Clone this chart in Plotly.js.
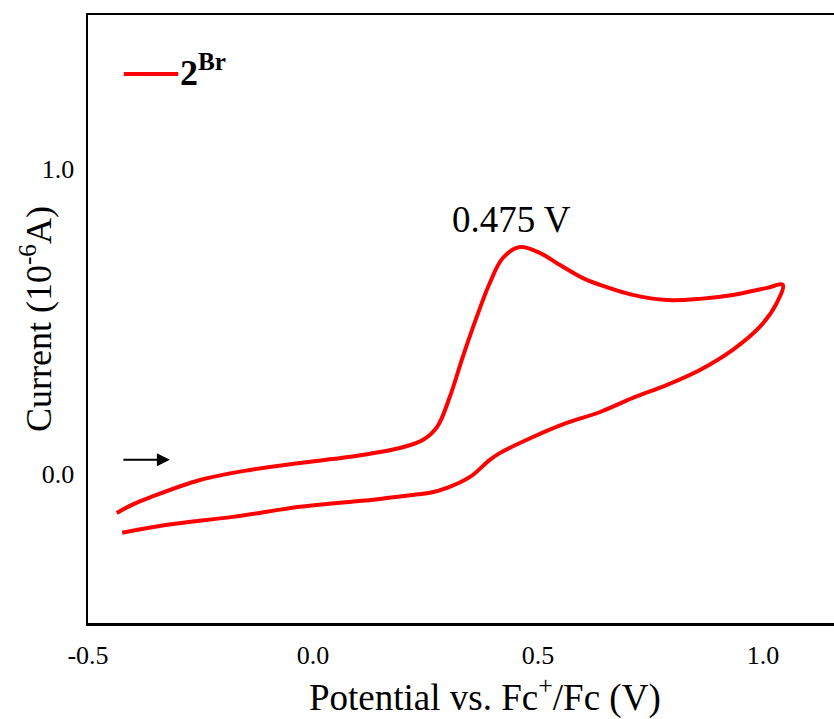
<!DOCTYPE html>
<html>
<head>
<meta charset="utf-8">
<script src="https://cdn.plot.ly/plotly-3.0.1.min.js"></script>
<style>html,body{margin:0;padding:0;background:#fff;overflow:hidden}</style>
</head>
<body>
<div id="chart" style="width:834px;height:719px"></div>
<script>
// Cyclic voltammogram of 2^Br: forward (anodic) scan, then reverse scan
const potential = [
  -0.436, -0.400, -0.362, -0.251, -0.140, -0.029, 0.082, 0.193, 0.244, 0.276, 0.304,
  0.333, 0.364, 0.393, 0.422, 0.460, 0.504, 0.549, 0.600, 0.638, 0.711, 0.787,
  0.860, 0.933, 1.009, 1.044,
  1.031, 0.993, 0.933, 0.860, 0.787, 0.711, 0.638, 0.564, 0.489, 0.416, 0.393,
  0.349, 0.298, 0.260, 0.222, 0.149, 0.060, -0.029, -0.178, -0.324, -0.424
];
const current = [
  -0.128, -0.100, -0.077, -0.020, 0.013, 0.036, 0.056, 0.085, 0.111, 0.154, 0.252,
  0.384, 0.515, 0.626, 0.708, 0.744, 0.725, 0.685, 0.642, 0.620, 0.587, 0.570,
  0.574, 0.587, 0.610, 0.620,
  0.561, 0.482, 0.407, 0.341, 0.292, 0.249, 0.203, 0.167, 0.121, 0.069, 0.046,
  -0.010, -0.046, -0.062, -0.069, -0.082, -0.095, -0.108, -0.141, -0.167, -0.193
];
const xTickVals = [-0.5, 0.0, 0.5, 1.0];
const xTickText = ['-0.5', '0.0', '0.5', '1.0'];
const yTickVals = [0.0, 1.0];
const yTickText = ['0.0', '1.0'];
const seriesName = '2<sup>Br</sup>';
const xTitle = 'Potential vs. Fc<sup>+</sup>/Fc (V)';
const yTitle = 'Current (10<sup>-6</sup>A)';
const peakLabel = '0.475 V';
const peakPos = [0.442, 0.835];
const arrowHead = [-0.318, 0.046];

const serif = 'Liberation Serif, Times New Roman, serif';

const trace = {
  x: potential, y: current, type: 'scatter', mode: 'lines', name: seriesName,
  line: {color: '#ff0000', width: 4, shape: 'spline', smoothing: 1},
  showlegend: false
};

const layout = {
  width: 834, height: 719,
  margin: {l: 88, r: 0, t: 15, b: 96},
  paper_bgcolor: '#fff', plot_bgcolor: '#fff',
  font: {family: serif, color: '#000'},
  xaxis: {
    range: [-0.5, 1.158], showgrid: false, zeroline: false,
    showline: true, linecolor: '#000', linewidth: 2.5, mirror: true,
    tickmode: 'array', tickvals: xTickVals, ticktext: xTickText,
    ticks: 'outside', ticklen: 7, tickcolor: 'rgba(0,0,0,0)',
    tickfont: {family: serif, size: 26, color: '#000'}
  },
  yaxis: {
    range: [-0.489, 1.505], showgrid: false, zeroline: false,
    showline: true, linecolor: '#000', linewidth: 2.5, mirror: false,
    tickmode: 'array', tickvals: yTickVals, ticktext: yTickText,
    ticks: 'outside', ticklen: 6, tickcolor: 'rgba(0,0,0,0)',
    tickfont: {family: serif, size: 26, color: '#000'}
  },
  shapes: [
    {type: 'line', xref: 'paper', yref: 'paper', x0: 0.048, x1: 0.121, y0: 0.903, y1: 0.903,
     line: {color: '#ff0000', width: 4}}
  ],
  annotations: [
    {xref: 'paper', yref: 'paper', x: 0.532, y: -0.118, xanchor: 'center', yanchor: 'middle',
     text: xTitle, showarrow: false, font: {family: serif, size: 37, color: '#000'}},
    {xref: 'paper', yref: 'paper', x: -0.0697, y: 0.5, xanchor: 'center', yanchor: 'middle',
     textangle: -90, text: yTitle, showarrow: false, font: {family: serif, size: 36, color: '#000'}},
    {xref: 'paper', yref: 'paper', x: 0.121, y: 0.908, xanchor: 'left', yanchor: 'middle',
     text: '<b>' + seriesName + '</b>', showarrow: false,
     font: {family: serif, size: 36, color: '#000'}},
    {x: peakPos[0], y: peakPos[1], text: peakLabel, showarrow: false,
     font: {family: serif, size: 37, color: '#000'}},
    {x: arrowHead[0], y: arrowHead[1], ax: -48, ay: 0, text: '', showarrow: true,
     arrowhead: 2, arrowsize: 1.3, arrowwidth: 2, arrowcolor: '#000'}
  ]
};

Plotly.newPlot('chart', [trace], layout, {displayModeBar: false, staticPlot: true});
</script>
</body>
</html>
